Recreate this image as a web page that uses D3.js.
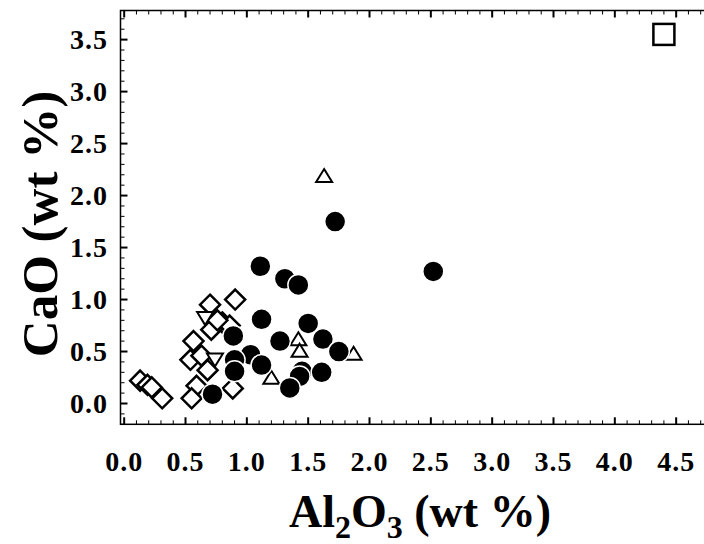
<!DOCTYPE html>
<html>
<head>
<meta charset="utf-8">
<script src="https://cdnjs.cloudflare.com/ajax/libs/d3/7.8.5/d3.min.js"></script>
<style>
  html, body { margin: 0; padding: 0; background: #fff; }
  svg { display: block; }
</style>
</head>
<body>
<svg id="chart" width="704" height="544"></svg>
<script>
// ---- data ----
const circleAl = [1.72, 2.52, 1.11, 1.31, 1.42, 1.12, 1.50, 0.89, 1.27, 1.62, 1.75, 1.03, 0.90, 1.12, 0.90, 1.45, 1.43, 1.61, 1.35, 0.72];
const circleCa = [1.75, 1.27, 1.32, 1.20, 1.14, 0.81, 0.77, 0.65, 0.60, 0.62, 0.50, 0.47, 0.42, 0.37, 0.31, 0.31, 0.26, 0.30, 0.15, 0.09];

const diamondAl = [0.905, 0.70, 0.80, 0.71, 0.86, 0.76, 0.565, 0.54, 0.63, 0.68, 0.13, 0.19, 0.225, 0.31, 0.59, 0.55, 0.885];
const diamondCa = [1.00, 0.95, 0.78, 0.71, 0.75, 0.80, 0.60, 0.42, 0.46, 0.32, 0.22, 0.18, 0.155, 0.05, 0.17, 0.05, 0.145];

const triUpAl = [1.63, 1.42, 1.43, 1.20, 1.87];
const triUpCa = [2.18, 0.61, 0.50, 0.24, 0.47];

const triDownAl = [0.66, 0.74];
const triDownCa = [0.83, 0.43];

const squareAl = [4.40];
const squareCa = [3.55];

const xTickLabels = ["0.0","0.5","1.0","1.5","2.0","2.5","3.0","3.5","4.0","4.5"];
const yTickLabels = ["0.0","0.5","1.0","1.5","2.0","2.5","3.0","3.5"];

// ---- layout ----
const svg = d3.select("#chart");
const pL = 120.5, pR = 705.6, pT = 10.5, pB = 424.3;
const x = d3.scaleLinear().domain([-0.03, 4.74]).range([pL, pR]);
const y = d3.scaleLinear().domain([-0.2, 3.78]).range([pB, pT]);
const font = "'Liberation Serif', 'Times New Roman', serif";

// frame
svg.append("rect")
  .attr("x", pL).attr("y", pT)
  .attr("width", pR - pL).attr("height", pB - pT)
  .attr("fill", "none").attr("stroke", "#000").attr("stroke-width", 1.5);

// ticks
const xMinor = d3.range(0, 48).map(i => +(i * 0.1).toFixed(2)).filter(v => v <= 4.74);
const yMinor = d3.range(-2, 38).map(i => +(i * 0.1).toFixed(2));
const isMajor = v => Math.abs(v * 2 - Math.round(v * 2)) < 1e-6;

const tickG = svg.append("g").attr("stroke", "#000");
xMinor.forEach(v => {
  const len = isMajor(v) ? 7 : 4;
  const sw = isMajor(v) ? 2 : 1;
  tickG.append("line").attr("x1", x(v)).attr("x2", x(v)).attr("y1", pB).attr("y2", pB - len).attr("stroke-width", sw);
  tickG.append("line").attr("x1", x(v)).attr("x2", x(v)).attr("y1", pT).attr("y2", pT + len).attr("stroke-width", sw);
});
yMinor.forEach(v => {
  const len = isMajor(v) ? 7 : 4;
  const sw = isMajor(v) ? 2 : 1;
  tickG.append("line").attr("y1", y(v)).attr("y2", y(v)).attr("x1", pL).attr("x2", pL + len).attr("stroke-width", sw);
});

// tick labels
svg.append("g").selectAll("text").data(xTickLabels).join("text")
  .attr("x", d => x(+d)).attr("y", 471)
  .attr("text-anchor", "middle")
  .attr("font-family", font).attr("font-weight", "bold").attr("font-size", 28)
  .attr("letter-spacing", 1)
  .text(d => d);

svg.append("g").selectAll("text").data(yTickLabels).join("text")
  .attr("x", 108).attr("y", d => y(+d)).attr("dy", "0.34em")
  .attr("text-anchor", "end")
  .attr("font-family", font).attr("font-weight", "bold").attr("font-size", 28)
  .attr("letter-spacing", 1)
  .text(d => d);

// axis titles
svg.append("text")
  .attr("transform", "translate(57,224) rotate(-90)")
  .attr("text-anchor", "middle")
  .attr("font-family", font).attr("font-weight", "bold").attr("font-size", 51)
  .text("CaO (wt %)");

const xt = svg.append("text")
  .attr("x", 420).attr("y", 527)
  .attr("text-anchor", "middle")
  .attr("font-family", font).attr("font-weight", "bold").attr("font-size", 46);
xt.append("tspan").text("Al");
xt.append("tspan").attr("font-size", 32).attr("dy", 11).text("2");
xt.append("tspan").attr("dy", -11).text("O");
xt.append("tspan").attr("font-size", 32).attr("dy", 11).text("3");
xt.append("tspan").attr("dy", -11).text(" (wt %)");

// ---- marks ----
const plot = svg.append("g");
const zip = (a, b) => a.map((v, i) => [v, b[i]]);

// diamonds (square rotated 45deg)
plot.append("g").selectAll("path").data(zip(diamondAl, diamondCa)).join("path")
  .attr("d", "M0,-10L10,0L0,10L-10,0Z")
  .attr("transform", d => `translate(${x(d[0])},${y(d[1])})`)
  .attr("fill", "#fff").attr("stroke", "#000").attr("stroke-width", 2.5);

// triangles
const triPath = (w, h, down) => {
  const s = down ? -1 : 1;
  return `M0,${-s * h * 0.6}L${w / 2},${s * h * 0.4}L${-w / 2},${s * h * 0.4}Z`;
};
plot.append("g").selectAll("path").data(zip(triUpAl, triUpCa)).join("path")
  .attr("d", triPath(16, 13, false))
  .attr("transform", d => `translate(${x(d[0])},${y(d[1])})`)
  .attr("fill", "#fff").attr("stroke", "#000").attr("stroke-width", 2);

plot.append("g").selectAll("path").data(zip(triDownAl, triDownCa)).join("path")
  .attr("d", triPath(16, 13, true))
  .attr("transform", d => `translate(${x(d[0])},${y(d[1])})`)
  .attr("fill", "#fff").attr("stroke", "#000").attr("stroke-width", 2);

// square
plot.append("g").selectAll("rect").data(zip(squareAl, squareCa)).join("rect")
  .attr("x", d => x(d[0]) - 10.5).attr("y", d => y(d[1]) - 10.5)
  .attr("width", 21).attr("height", 21)
  .attr("fill", "#fff").attr("stroke", "#000").attr("stroke-width", 2.5);

// filled circles
plot.append("g").selectAll("circle").data(zip(circleAl, circleCa)).join("circle")
  .attr("cx", d => x(d[0])).attr("cy", d => y(d[1])).attr("r", 10.5)
  .attr("fill", "#000").attr("stroke", "#fff").attr("stroke-width", 1.5);
</script>
</body>
</html>
